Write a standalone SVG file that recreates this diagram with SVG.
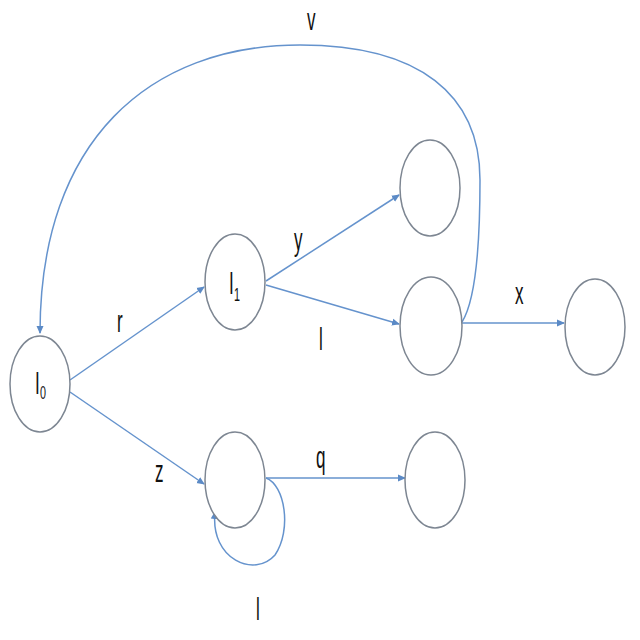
<svg xmlns="http://www.w3.org/2000/svg" width="640" height="640" viewBox="0 0 640 640">
<defs>
<marker id="ah" markerWidth="8" markerHeight="8" refX="7" refY="4" orient="auto" markerUnits="userSpaceOnUse">
<path d="M0,0.5 L8,4 L0,7.5 Z" fill="#5b8ac6"/>
</marker>
<style>
.n{fill:#fff;stroke:#7d8692;stroke-width:1.5}
.e{fill:none;stroke:#6593cd;stroke-width:1.5}
.t{font-family:"Liberation Sans",Arial,sans-serif;font-size:31px;fill:#111}
.s{font-family:"Liberation Sans",Arial,sans-serif;font-size:18px;fill:#111}
</style>
</defs>
<rect width="640" height="640" fill="#fff"/>
<g id="connectors">
<path class="e" d="M70,380 L204,287" marker-end="url(#ah)"/>
<path class="e" d="M70,392 L204,484" marker-end="url(#ah)"/>
<path class="e" d="M266,281 L399,195" marker-end="url(#ah)"/>
<path class="e" d="M266,285 L399,324" marker-end="url(#ah)"/>
<path class="e" d="M462,323 L564,323" marker-end="url(#ah)"/>
<path class="e" d="M266,478 L405,478" marker-end="url(#ah)"/>
<path class="e" d="M462,322 C476,300 480,240 480,180 C480,95 420,45 300,45 C150,45 40,140 40,333" marker-end="url(#ah)"/>
<path class="e" d="M266,478 C285,485 292,530 275,555 C255,578 210,560 215,512" marker-end="url(#ah)"/>
</g>
<g id="n-I0"><ellipse class="n" cx="40" cy="384" rx="30" ry="48"/>
<g transform="translate(35,394) scale(0.55,1)"><text class="t" x="0" y="0">I</text></g>
<g transform="translate(40,399) scale(0.6,1)"><text class="s" x="0" y="0">0</text></g></g>
<g id="n-I1"><ellipse class="n" cx="235" cy="282" rx="30" ry="48"/>
<g transform="translate(229,294) scale(0.55,1)"><text class="t" x="0" y="0">I</text></g>
<g transform="translate(234,301) scale(0.6,1)"><text class="s" x="0" y="0">1</text></g></g>
<g id="n-top"><ellipse class="n" cx="430" cy="188" rx="30" ry="48"/></g>
<g id="n-mid"><ellipse class="n" cx="431" cy="326" rx="31" ry="49"/></g>
<g id="n-far"><ellipse class="n" cx="595" cy="327" rx="30" ry="48"/></g>
<g id="n-z"><ellipse class="n" cx="235" cy="480" rx="30" ry="48"/></g>
<g id="n-q"><ellipse class="n" cx="435" cy="480" rx="30" ry="48"/></g>
<g id="labels">
<g transform="translate(307,30) scale(0.55,1)"><text class="t" x="0" y="0">v</text></g>
<g transform="translate(117,332) scale(0.55,1)"><text class="t" x="0" y="0">r</text></g>
<g transform="translate(294,250) scale(0.55,1)"><text class="t" x="0" y="0">y</text></g>
<g transform="translate(319,350) scale(0.55,1)"><text class="t" x="0" y="0">l</text></g>
<g transform="translate(515,304) scale(0.55,1)"><text class="t" x="0" y="0">x</text></g>
<g transform="translate(155,482) scale(0.55,1)"><text class="t" x="0" y="0">z</text></g>
<g transform="translate(316,468) scale(0.55,1)"><text class="t" x="0" y="0">q</text></g>
<g transform="translate(256,620) scale(0.55,1)"><text class="t" x="0" y="0">l</text></g>
</g>
</svg>
